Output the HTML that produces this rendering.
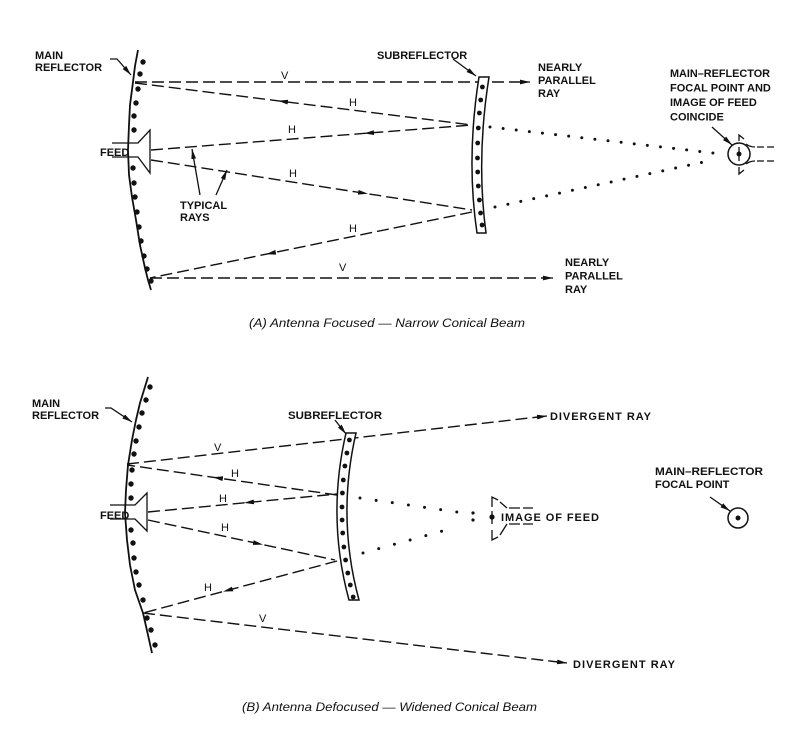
<!DOCTYPE html>
<html><head><meta charset="utf-8"><style>
html,body{margin:0;padding:0;background:#fff;}
svg{display:block;}
.t{font-family:"Liberation Sans",sans-serif;font-weight:bold;font-size:11px;fill:#111;}
.l{font-family:"Liberation Sans",sans-serif;font-size:11px;fill:#111;}
.c{font-family:"Liberation Sans",sans-serif;font-style:italic;font-size:12px;fill:#111;}
.ray{stroke:#111;stroke-width:1.4;fill:none;stroke-dasharray:12 5;}
.sol{stroke:#111;stroke-width:1.3;fill:none;}
.arc{stroke:#111;stroke-width:1.8;fill:none;stroke-linejoin:round;}
.dot{fill:#111;}
.mk{stroke:none;fill:none;}
</style></head><body>
<svg width="800" height="729" viewBox="0 0 800 729" xmlns="http://www.w3.org/2000/svg">
<defs>
<marker id="ah" viewBox="0 0 10 6" refX="10" refY="3" markerWidth="10" markerHeight="6" markerUnits="userSpaceOnUse" orient="auto">
<path d="M0,0.6 L10,3 L0,5.4 Z" fill="#111"/>
</marker>
</defs>
<rect width="800" height="729" fill="#fff"/>

<!-- ============ PANEL A ============ -->
<path class="arc" d="M138,50 L135,66 L133,82 L130,105 L129,125 L128,150 L129,175 L132,197 L136,220 L140,245 L145,268 L148,280 L151,290"/>
<g class="dot">
<circle cx="143" cy="62" r="2.7"/><circle cx="140" cy="74" r="2.7"/><circle cx="138" cy="89" r="2.7"/><circle cx="136" cy="103" r="2.7"/><circle cx="134" cy="116" r="2.7"/><circle cx="134" cy="130" r="2.7"/><circle cx="133" cy="168" r="2.7"/><circle cx="134" cy="183" r="2.7"/><circle cx="135" cy="197" r="2.7"/><circle cx="137" cy="212" r="2.7"/><circle cx="139" cy="227" r="2.7"/><circle cx="141" cy="241" r="2.7"/><circle cx="144" cy="256" r="2.7"/><circle cx="147" cy="269" r="2.7"/><circle cx="151" cy="281" r="2.7"/>
</g>
<!-- feed A -->
<path d="M138,143 L150,130 L150,173 L138,157 Z" fill="#fff" stroke="none"/>
<path class="sol" d="M112,143 L138,143 L150,130 L150,173 L138,157 L112,157" stroke-width="1.4"/>
<text class="t" x="100" y="156">FEED</text>

<!-- rays A -->
<path class="ray" d="M135,82 L520,82"/>
<path class="sol" d="M520,82 L530,82" marker-end="url(#ah)"/>
<path class="ray" d="M135,83 L472,125"/>
<path class="ray" d="M151,150 L472,125"/>
<path class="ray" d="M151,160 L472,210"/>
<path class="ray" d="M472,212 L150,278"/>
<path class="ray" d="M150,278 L545,278"/>
<path class="sol" d="M545,278 L553,278" marker-end="url(#ah)"/>
<path class="mk" d="M288,102.1 L278,100.8" marker-end="url(#ah)"/>
<path class="mk" d="M374,132.6 L364,133.4" marker-end="url(#ah)"/>
<path class="mk" d="M358,192.2 L368,193.8" marker-end="url(#ah)"/>
<path class="mk" d="M276,252.2 L266,254.2" marker-end="url(#ah)"/>

<text class="l" x="281" y="79">V</text>
<text class="l" x="339" y="271">V</text>
<text class="l" x="349" y="106">H</text>
<text class="l" x="288" y="133">H</text>
<text class="l" x="289" y="177">H</text>
<text class="l" x="349" y="232">H</text>

<path class="sol" d="M200,195 L192,149" marker-end="url(#ah)"/>
<path class="sol" d="M216,195 L227,170" marker-end="url(#ah)"/>
<text class="t" x="180" y="209">TYPICAL</text>
<text class="t" x="180" y="221">RAYS</text>

<path d="M479,77 Q466,159 477,233 L486,233 Q476,159 489,77 Z" fill="#fff" stroke="#111" stroke-width="1.5"/>
<g class="dot">
<circle cx="482.4" cy="87" r="2.4"/><circle cx="480.7" cy="100" r="2.4"/><circle cx="479.4" cy="113" r="2.4"/><circle cx="478.3" cy="128" r="2.4"/><circle cx="477.7" cy="143" r="2.4"/><circle cx="477.5" cy="158" r="2.4"/><circle cx="477.7" cy="172" r="2.4"/><circle cx="478.3" cy="186" r="2.4"/><circle cx="479.4" cy="200" r="2.4"/><circle cx="480.6" cy="213" r="2.4"/><circle cx="482.1" cy="225" r="2.4"/>
</g>

<path d="M490,127 L713,153" stroke="#111" stroke-width="3" stroke-linecap="round" stroke-dasharray="0 13.2" fill="none"/>
<path d="M495,207 L713,160" stroke="#111" stroke-width="3" stroke-linecap="round" stroke-dasharray="0 13.2" fill="none"/>

<circle cx="739" cy="154" r="11" fill="#fff" stroke="#111" stroke-width="1.5"/>
<path class="sol" d="M739,147 L739,161"/>
<circle cx="739" cy="154" r="2.5" class="dot"/>
<path class="sol" d="M739,141 L739,135 L744,139"/>
<path class="sol" d="M746,144 Q750,147 755,147 M757,147 L764,147 M767,147 L774,147"/>
<path class="sol" d="M746,164 Q750,161 755,161 M757,161 L764,161 M767,161 L774,161"/>
<path class="sol" d="M739,167 L739,174 L744,170"/>

<text class="t" x="35" y="59">MAIN</text>
<text class="t" x="35" y="71">REFLECTOR</text>
<path class="sol" d="M110,59 L117,59 L131,75" marker-end="url(#ah)"/>
<text class="t" x="377" y="59">SUBREFLECTOR</text>
<path class="sol" d="M453,59 L476,76" marker-end="url(#ah)"/>
<text class="t" x="538" y="71">NEARLY</text>
<text class="t" x="538" y="84">PARALLEL</text>
<text class="t" x="538" y="97">RAY</text>
<text class="t" x="565" y="266">NEARLY</text>
<text class="t" x="565" y="279.5">PARALLEL</text>
<text class="t" x="565" y="293">RAY</text>
<text class="t" x="670" y="77" textLength="100" lengthAdjust="spacingAndGlyphs">MAIN–REFLECTOR</text>
<text class="t" x="670" y="91.5">FOCAL POINT AND</text>
<text class="t" x="670" y="106">IMAGE OF FEED</text>
<text class="t" x="670" y="120.5">COINCIDE</text>
<path class="sol" d="M712,127 L732,145" marker-end="url(#ah)"/>

<text class="c" x="249" y="327" textLength="276" lengthAdjust="spacingAndGlyphs">(A) Antenna Focused — Narrow Conical Beam</text>

<!-- ============ PANEL B ============ -->
<path class="arc" d="M148,377 L144,390 L140,403 L136,420 L132,440 L128,465 L126,490 L125,513 L127,540 L130,565 L135,590 L143,613 L148,635 L152,653"/>
<g class="dot">
<circle cx="150" cy="387" r="2.7"/><circle cx="146" cy="400" r="2.7"/><circle cx="142" cy="413" r="2.7"/><circle cx="139" cy="427" r="2.7"/><circle cx="136" cy="441" r="2.7"/><circle cx="134" cy="454" r="2.7"/><circle cx="132" cy="470" r="2.7"/><circle cx="131" cy="484" r="2.7"/><circle cx="131" cy="498" r="2.7"/><circle cx="131" cy="530" r="2.7"/><circle cx="133" cy="543" r="2.7"/><circle cx="134" cy="558" r="2.7"/><circle cx="136" cy="572" r="2.7"/><circle cx="139" cy="585" r="2.7"/><circle cx="143" cy="600" r="2.7"/><circle cx="147" cy="618" r="2.7"/><circle cx="151" cy="630" r="2.7"/><circle cx="155" cy="645" r="2.7"/>
</g>
<path d="M135,505 L147,493 L147,531 L135,519 Z" fill="#fff" stroke="none"/>
<path class="sol" d="M110,505 L135,505 L147,493 L147,531 L135,519 L110,519" stroke-width="1.4"/>
<text class="t" x="100" y="519">FEED</text>

<path class="ray" d="M127,464 L538,417"/>
<path class="sol" d="M538,417 L547,416" marker-end="url(#ah)"/>
<path class="ray" d="M337,495 L127,465"/>
<path class="ray" d="M148,512 L337,494"/>
<path class="ray" d="M148,520 L335,560"/>
<path class="ray" d="M337,561 L143,613"/>
<path class="ray" d="M143,613 L558,662"/>
<path class="sol" d="M558,662 L567,663" marker-end="url(#ah)"/>
<path class="mk" d="M223,478.7 L213,477.3" marker-end="url(#ah)"/>
<path class="mk" d="M254,501.9 L244,502.9" marker-end="url(#ah)"/>
<path class="mk" d="M253,542.5 L263,544.6" marker-end="url(#ah)"/>
<path class="mk" d="M233,588.9 L223,591.6" marker-end="url(#ah)"/>

<text class="l" x="214" y="451">V</text>
<text class="l" x="259" y="622">V</text>
<text class="l" x="231" y="477">H</text>
<text class="l" x="219" y="502">H</text>
<text class="l" x="221" y="531">H</text>
<text class="l" x="204" y="591">H</text>

<path d="M346,433 Q326.5,517.5 349,600 L359,600 Q336.5,517.5 356,433 Z" fill="#fff" stroke="#111" stroke-width="1.5"/>
<g class="dot">
<circle cx="349.4" cy="440" r="2.4"/><circle cx="346.9" cy="453" r="2.4"/><circle cx="344.9" cy="466" r="2.4"/><circle cx="343.3" cy="480" r="2.4"/><circle cx="342.4" cy="493" r="2.4"/><circle cx="342" cy="507" r="2.4"/><circle cx="342.1" cy="520" r="2.4"/><circle cx="342.7" cy="533" r="2.4"/><circle cx="343.9" cy="547" r="2.4"/><circle cx="345.6" cy="560" r="2.4"/><circle cx="347.8" cy="573" r="2.4"/><circle cx="350.3" cy="585" r="2.4"/><circle cx="353.2" cy="597" r="2.4"/>
</g>

<path d="M360,498 L457,512" stroke="#111" stroke-width="3" stroke-linecap="round" stroke-dasharray="0 16.3" fill="none"/>
<path d="M363,553 L457,527" stroke="#111" stroke-width="3" stroke-linecap="round" stroke-dasharray="0 16.3" fill="none"/>
<circle cx="473" cy="513" r="1.6" class="dot"/>
<circle cx="473" cy="520" r="1.6" class="dot"/>

<path class="sol" d="M492,507 L492,497 L498,500"/>
<path class="sol" d="M492,511 L492,524"/>
<circle cx="492" cy="517" r="2.6" class="dot"/>
<path class="sol" d="M500,502 L507,508 M509,508 L520,508 M523,508 L533,508"/>
<path class="sol" d="M492,530 L492,540 L498,537"/>
<path class="sol" d="M500,535 L507,524 M509,524 L520,524 M523,524 L533,524"/>
<text class="t" x="501" y="521" textLength="98" lengthAdjust="spacing">IMAGE  OF  FEED</text>

<circle cx="738" cy="518" r="10" fill="#fff" stroke="#111" stroke-width="1.5"/>
<circle cx="738" cy="518" r="2.5" class="dot"/>
<path class="sol" d="M710,497 L730,511" marker-end="url(#ah)"/>
<text class="t" x="655" y="475" textLength="108" lengthAdjust="spacingAndGlyphs">MAIN–REFLECTOR</text>
<text class="t" x="655" y="488">FOCAL POINT</text>

<text class="t" x="32" y="407">MAIN</text>
<text class="t" x="32" y="419">REFLECTOR</text>
<path class="sol" d="M105,408 L111,408 L132,422" marker-end="url(#ah)"/>
<text class="t" x="288" y="419" textLength="94" lengthAdjust="spacingAndGlyphs">SUBREFLECTOR</text>
<path class="sol" d="M335,420 L346,434" marker-end="url(#ah)"/>
<text class="t" x="550" y="420" textLength="101" lengthAdjust="spacing">DIVERGENT  RAY</text>
<text class="t" x="573" y="668" textLength="102" lengthAdjust="spacing">DIVERGENT  RAY</text>

<text class="c" x="242" y="711" textLength="295" lengthAdjust="spacingAndGlyphs">(B) Antenna Defocused — Widened Conical Beam</text>
</svg>
</body></html>
